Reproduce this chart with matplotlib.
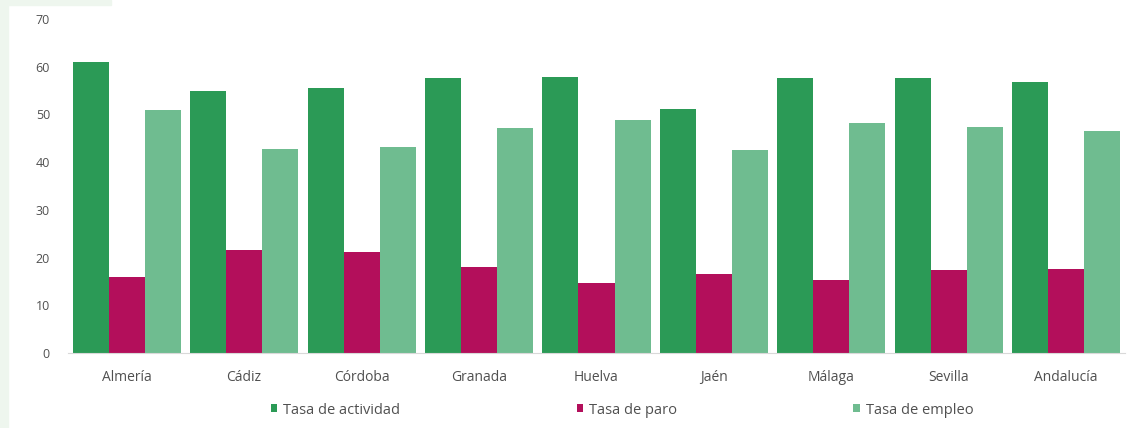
import numpy as np
import matplotlib.pyplot as plt
from matplotlib.patches import Rectangle

provincias = ['Almería', 'Cádiz', 'Córdoba', 'Granada', 'Huelva', 'Jaén', 'Málaga', 'Sevilla', 'Andalucía']
tasa_actividad = [61.0, 54.9, 55.6, 57.7, 57.9, 51.2, 57.7, 57.7, 56.8]
tasa_paro = [15.9, 21.6, 21.2, 18.0, 14.7, 16.6, 15.3, 17.4, 17.6]
tasa_empleo = [50.9, 42.8, 43.2, 47.2, 48.8, 42.6, 48.2, 47.4, 46.5]

c_act = '#2b9a56'
c_paro = '#b30f5b'
c_emp = '#6fbc90'
c_text = '#505050'

plt.rcParams['font.family'] = ['Open Sans', 'DejaVu Sans']

fig = plt.figure(figsize=(11.28, 4.28), dpi=100)
# pale green frame on the left edge, as in the source screenshot
fig.patches.append(Rectangle((0, 0), 0.007, 1, transform=fig.transFigure,
                             color='#eef6ee', zorder=0))
fig.patches.append(Rectangle((0, 0.988), 0.098, 0.012, transform=fig.transFigure,
                             color='#eef6ee', zorder=0))

ax = fig.add_axes([0.0603, 0.175, 0.937, 0.781])

x = np.arange(len(provincias))
w = 0.307
ax.bar(x - w, tasa_actividad, w, color=c_act, label='Tasa de actividad')
ax.bar(x, tasa_paro, w, color=c_paro, label='Tasa de paro')
ax.bar(x + w, tasa_empleo, w, color=c_emp, label='Tasa de empleo')

ax.set_xlim(-0.5, len(provincias) - 0.5)
ax.set_ylim(0, 70)
ax.set_yticks(range(0, 71, 10))
ax.set_xticks(x)
ax.set_xticklabels(provincias)
ax.tick_params(axis='both', length=0, colors=c_text)
ax.tick_params(axis='y', pad=13, labelsize=9)
ax.tick_params(axis='x', pad=12, labelsize=10)
for s in ['top', 'right', 'left']:
    ax.spines[s].set_visible(False)
ax.spines['bottom'].set_color('#d9d9d9')

leg = fig.legend(loc='center left', bbox_to_anchor=(0.240, 0.042), ncol=3, frameon=False,
                 fontsize=10.5, handlelength=0.45, handleheight=0.45, handletextpad=0.4,
                 columnspacing=12.1, borderpad=0, borderaxespad=0)
for t in leg.get_texts():
    t.set_color(c_text)

fig.savefig('out.png', dpi=100)
